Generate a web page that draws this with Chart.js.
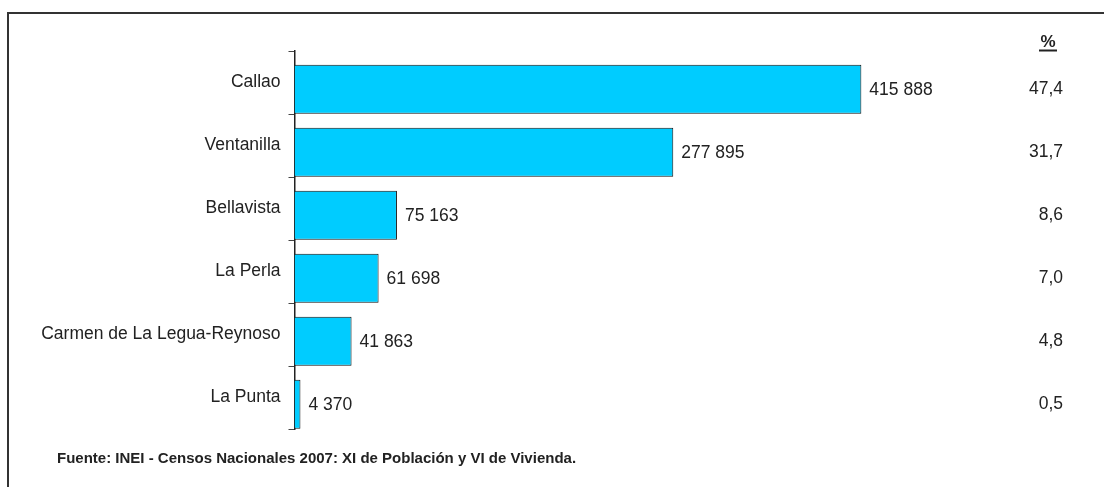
<!DOCTYPE html>
<html>
<head>
<meta charset="utf-8">
<script src="https://cdn.jsdelivr.net/npm/chart.js@4/dist/chart.umd.min.js"></script>
<style>
  html, body { margin: 0; padding: 0; background: #fff; }
  #wrap { position: relative; width: 1104px; height: 487px; }
  #frame { position: absolute; left: 7px; top: 12px; right: 0; bottom: -4px;
           border-left: 2px solid #333; border-top: 2px solid #333; }
</style>
</head>
<body>
<div id="wrap">
  <div id="frame"></div>
  <canvas id="chart" width="1104" height="487"></canvas>
</div>
<script>
// Población censada por distrito, Provincia Constitucional del Callao (2007)
const distritos = ["Callao", "Ventanilla", "Bellavista", "La Perla", "Carmen de La Legua-Reynoso", "La Punta"];
const poblacion = [415888, 277895, 75163, 61698, 41863, 4370];
const porcentaje = [47.4, 31.7, 8.6, 7.0, 4.8, 0.5];
const fuente = "Fuente: INEI - Censos Nacionales 2007: XI de Población y VI de Vivienda.";

const FONT = "'Liberation Sans', Arial, sans-serif";
const C = { bar: "#00ccff", ink: "#222", axis: "#222" };

const fmtMiles = (n) => String(n).replace(/\B(?=(\d{3})+(?!\d))/g, " ");
const fmtPct = (n) => n.toFixed(1).replace(".", ",");

// textos fuera de las barras: valores, columna %, fuente
const etiquetas = {
  id: "etiquetas",
  afterDatasetsDraw(chart) {
    const ctx = chart.ctx;
    const barras = chart.getDatasetMeta(1).data;
    ctx.save();
    ctx.fillStyle = C.ink;
    ctx.font = "17.5px " + FONT;
    ctx.textBaseline = "middle";
    barras.forEach((b, i) => {
      ctx.textAlign = "left";
      ctx.fillText(fmtMiles(poblacion[i]), b.x + 8, b.y + 1);
      ctx.textAlign = "right";
      ctx.fillText(fmtPct(porcentaje[i]), 1063, b.y);
    });
    // encabezado %
    ctx.font = "bold 17px " + FONT;
    ctx.textAlign = "center";
    ctx.textBaseline = "alphabetic";
    ctx.fillText("%", 1048, 47);
    ctx.fillRect(1039, 49.5, 18, 2);
    // fuente
    ctx.font = "bold 15px " + FONT;
    ctx.textAlign = "left";
    ctx.textBaseline = "middle";
    ctx.fillText(fuente, 57, 459);
    ctx.restore();
  },
};

new Chart(document.getElementById("chart"), {
  type: "bar",
  data: {
    labels: distritos,
    datasets: [
      // serie % (invisible) ocupa la primera mitad de cada categoria, como en el original
      { data: porcentaje, backgroundColor: "transparent", borderWidth: 0 },
      { data: poblacion, backgroundColor: C.bar, borderColor: "#111", borderWidth: 1 },
    ],
  },
  options: {
    indexAxis: "y",
    responsive: false,
    animation: false,
    events: [],
    layout: { padding: { left: 7, top: 51, right: 128, bottom: 58 } },
    datasets: { bar: { categoryPercentage: 0.43, barPercentage: 3.62 } },
    plugins: { legend: { display: false }, tooltip: { enabled: false } },
    scales: {
      x: { display: false, min: 0, max: 500000 },
      y: {
        afterFit: (s) => { s.width = 287.5; },
        grid: { offset: true, drawOnChartArea: false, drawTicks: true, tickLength: 6, color: "#444", lineWidth: 1 },
        border: { display: true, color: C.axis, width: 1.5 },
        ticks: { color: C.ink, padding: 8, font: { family: FONT, size: 17.5 } },
      },
    },
  },
  plugins: [etiquetas],
});
</script>
</body>
</html>
